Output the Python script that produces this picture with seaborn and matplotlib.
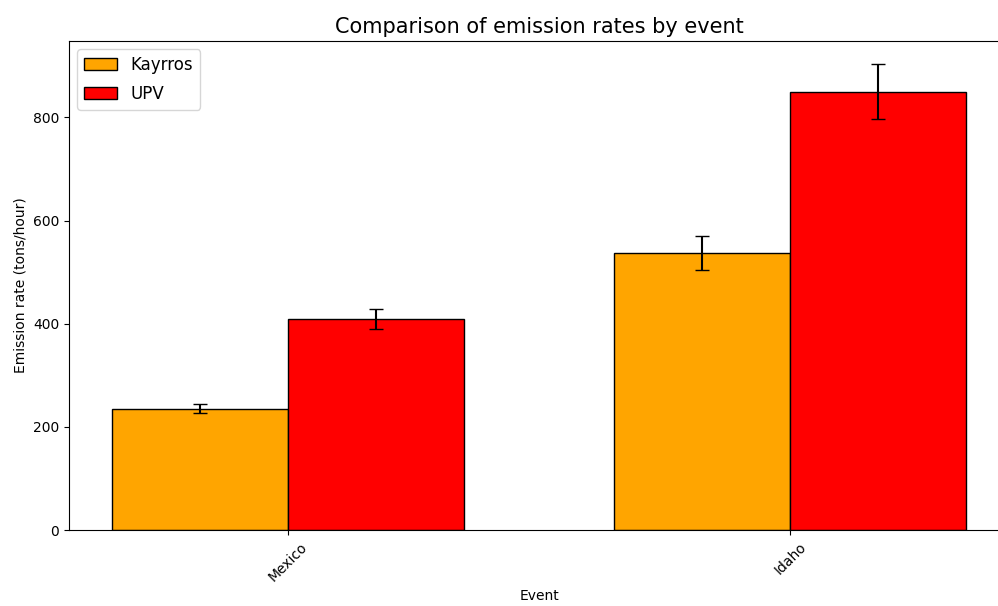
import pandas as pd
import matplotlib
matplotlib.use('Agg')
import matplotlib.pyplot as plt
import seaborn as sns

# Values
events = ['Mexico', 'Idaho']
kayrros_rate = [235, 537]
kayrros_err = [9, 33]
upv_rate = [409, 850]
upv_err = [20, 53]
sources = ['Kayrros', 'UPV']
colors = ['orange', 'red']

data = pd.DataFrame({
    'Event': events * 2,
    'Source': [sources[0]] * len(events) + [sources[1]] * len(events),
    'Rate': kayrros_rate + upv_rate,
    'Err': kayrros_err + upv_err,
})

fig = plt.figure(figsize=(9.98, 6.06), dpi=100)
# axes runs slightly past the right edge, as in the reference
ax = fig.add_axes([0.0691, 0.1254, 0.942, 0.8069])

sns.barplot(data=data, x='Event', y='Rate', hue='Source', order=events,
            hue_order=sources, palette=colors, width=0.7, errorbar=None,
            edgecolor='black', linewidth=1, saturation=1, ax=ax)

# error bars at the centre of each bar
for container, src in zip(ax.containers, sources):
    sub = data[data['Source'] == src].set_index('Event').loc[events]
    xs = [p.get_x() + p.get_width() / 2 for p in container.patches]
    ax.errorbar(xs, sub['Rate'], yerr=sub['Err'], fmt='none',
                ecolor='black', capsize=5, elinewidth=1.5)

ax.set_xlim(-0.435, 1.435)
ax.spines['right'].set_visible(False)  # falls outside the cropped figure
ax.set_title('Comparison of emission rates by event', fontsize=15)
ax.set_xlabel('Event')
ax.set_ylabel('Emission rate (tons/hour)')
plt.setp(ax.get_xticklabels(), rotation=45)
ax.legend(fontsize=12, loc='upper left', labelspacing=0.65)

fig.savefig('out.png', dpi=100)
